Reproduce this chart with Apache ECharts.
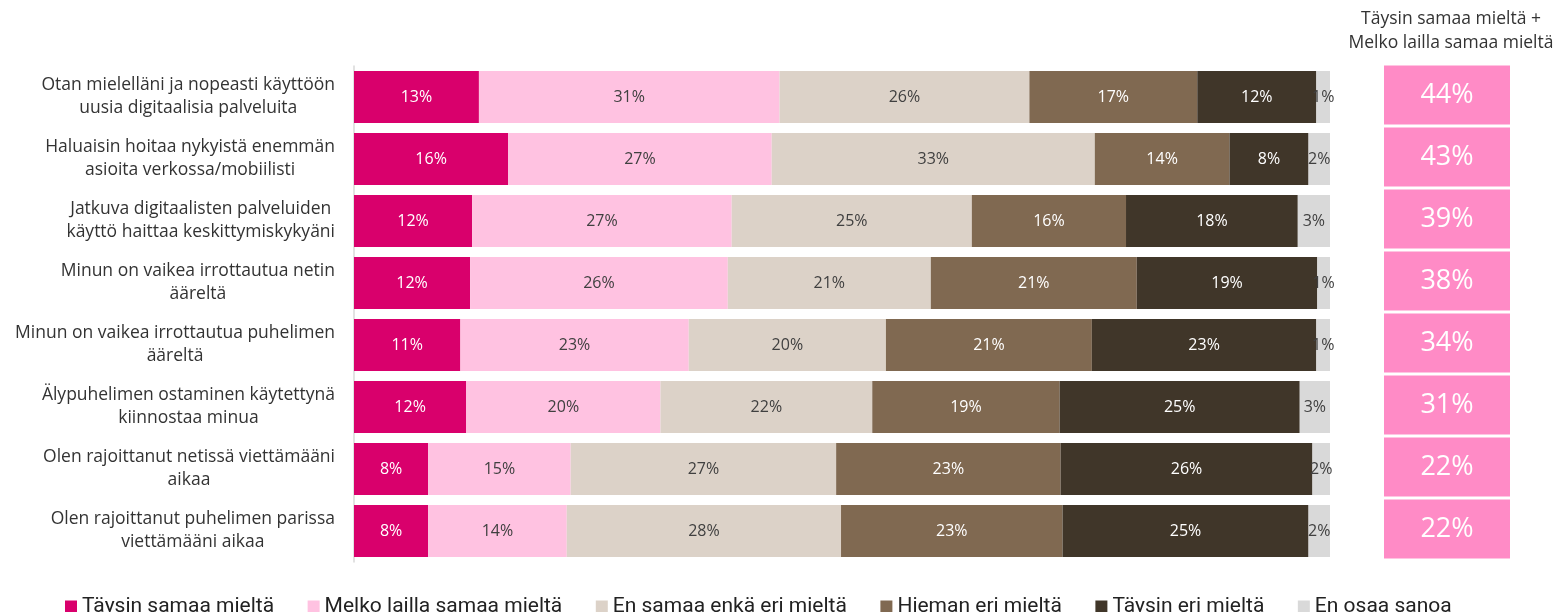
<!DOCTYPE html>
<html>
<head>
<meta charset="utf-8">
<script src="https://cdn.jsdelivr.net/npm/echarts@6/dist/echarts.min.js"></script>
<style>
html,body{margin:0;padding:0;background:#fff;}
#chart{width:1555px;height:612px;}
</style>
</head>
<body>
<div id="chart"></div>
<script>
const categories = [
  "Otan mielelläni ja nopeasti käyttöön\nuusia digitaalisia palveluita",
  "Haluaisin hoitaa nykyistä enemmän\nasioita verkossa/mobiilisti",
  "Jatkuva digitaalisten palveluiden\nkäyttö haittaa keskittymiskykyäni",
  "Minun on vaikea irrottautua netin\nääreltä",
  "Minun on vaikea irrottautua puhelimen\nääreltä",
  "Älypuhelimen ostaminen käytettynä\nkiinnostaa minua",
  "Olen rajoittanut netissä viettämääni\naikaa",
  "Olen rajoittanut puhelimen parissa\nviettämääni aikaa"
];
const seriesNames = ["Täysin samaa mieltä","Melko lailla samaa mieltä","En samaa enkä eri mieltä","Hieman eri mieltä","Täysin eri mieltä","En osaa sanoa"];
const taysinSamaa   = [12.8, 15.8, 12.1, 11.9, 10.9, 11.5, 7.6, 7.6];
const melkoSamaa    = [30.8, 27.0, 26.6, 26.4, 23.4, 19.9, 14.6, 14.2];
const enSamaaEnkaEri= [25.6, 33.1, 24.6, 20.8, 20.2, 21.7, 27.2, 28.1];
const hiemanEri     = [17.2, 13.8, 15.8, 21.1, 21.1, 19.2, 23.0, 22.7];
const taysinEri     = [12.2,  8.1, 17.6, 18.5, 23.0, 24.6, 25.8, 25.2];
const enOsaa        = [ 1.4,  2.2,  3.3,  1.3,  1.4,  3.1,  1.8,  2.2];
const totals        = [44, 43, 39, 38, 34, 31, 22, 22];
const headerText = "Täysin samaa mieltä +\nMelko lailla samaa mieltä";

const colors = ["#D9006C","#FFC2E1","#DCD2C8","#806951","#403629","#D9D9D9"];
const labelColors = ["#ffffff","#404040","#404040","#ffffff","#ffffff","#404040"];
const allData = [taysinSamaa, melkoSamaa, enSamaaEnkaEri, hiemanEri, taysinEri, enOsaa];
const FONT = "Open Sans";

const chart = echarts.init(document.getElementById('chart'), null, {renderer:'canvas'});

const barSeries = allData.map((d, k) => ({
  name: seriesNames[k],
  type: 'bar',
  stack: 'total',
  xAxisIndex: 0, yAxisIndex: 0,
  barWidth: 52,
  data: d,
  itemStyle: {color: colors[k]},
  label: {
    show: true,
    position: 'inside',
    color: labelColors[k],
    fontFamily: FONT,
    fontSize: 16,
    formatter: p => Math.round(p.value) + '%'
  },
  emphasis: {disabled: true},
  animation: false
}));

const option = {
  animation: false,
  textStyle: {fontFamily: FONT},
  title: {
    text: headerText,
    left: 1446, top: 2,
    textAlign: 'center',
    textStyle: {fontFamily: FONT, fontSize: 17.5, fontWeight: 'normal', color: '#333', lineHeight: 24, align: 'center'}
  },
  legend: {
    data: seriesNames,
    left: 60, top: 591,
    itemWidth: 12, itemHeight: 12, itemGap: 33.5,
    icon: 'rect',
    textStyle: {fontFamily: 'Roboto', fontSize: 21, color: '#222'}
  },
  grid: [
    {left: 354, right: 225, top: 66, bottom: 50, containLabel: false},
    {left: 1384, width: 126, top: 64, bottom: 52, containLabel: false}
  ],
  xAxis: [
    {type: 'value', gridIndex: 0, min: 0, max: 100, show: false},
    {type: 'value', gridIndex: 1, min: 0, max: 100, show: false}
  ],
  yAxis: [
    {
      type: 'category', gridIndex: 0, data: categories, inverse: true,
      axisLine: {show: true, lineStyle: {color: '#D9D9D9', width: 1.5}},
      axisTick: {show: false},
      axisLabel: {
        margin: 19,
        formatter: v => v.split('\n').map(s => '{c|' + s + '}').join('\n'),
        rich: {c: {align: 'center', fontFamily: FONT, fontSize: 17.5, color: '#333', lineHeight: 23}}
      }
    },
    {type: 'category', gridIndex: 1, data: categories, inverse: true, show: false}
  ],
  series: barSeries.concat([{
    type: 'custom',
    name: 'totals',
    xAxisIndex: 1, yAxisIndex: 1,
    data: totals.map((v, i) => [v, i]),
    encode: {x: 0, y: 1},
    renderItem: (params, api) => {
      const c = api.coord([0, api.value(1)]);
      const band = api.size([0, 1])[1];
      const h = band - 3;
      const cs = params.coordSys;
      return {
        type: 'rect',
        shape: {x: cs.x, y: c[1] - h / 2, width: cs.width, height: h},
        style: {fill: '#FF8BC6'},
        textContent: {style: {text: api.value(0) + '%', fill: '#ffffff', fontSize: 27, fontFamily: FONT}},
        textConfig: {position: 'inside'}
      };
    },
    silent: true
  }])
};
chart.setOption(option);
</script>
</body>
</html>
